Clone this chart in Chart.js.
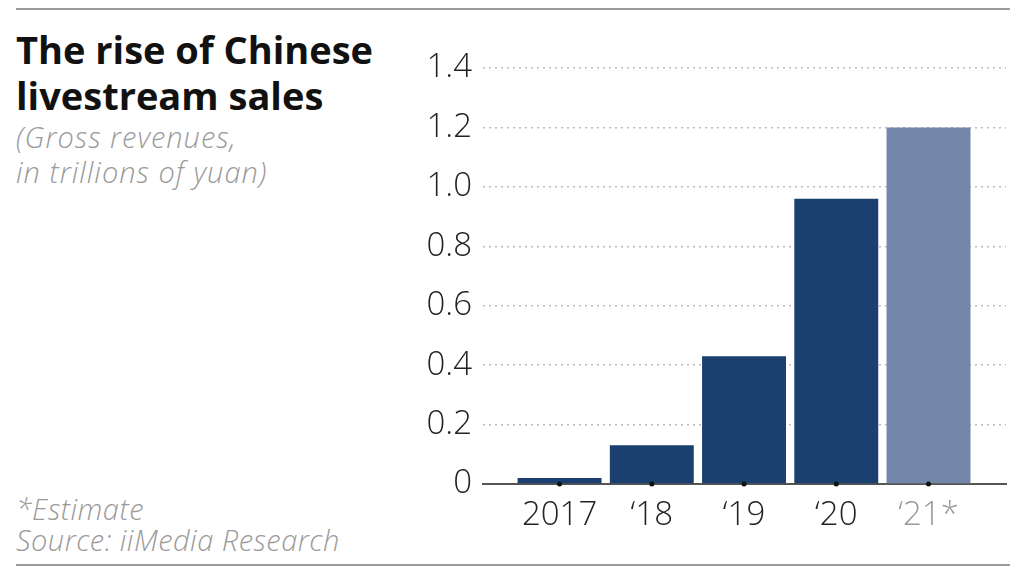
<!DOCTYPE html>
<html>
<head>
<meta charset="utf-8">
<script src="https://cdn.jsdelivr.net/npm/chart.js@4"></script>
<style>
  html, body { margin: 0; padding: 0; background: #fff; }
  body { width: 1024px; height: 572px; position: relative; overflow: hidden; font-family: "Open Sans", sans-serif; }
  .rule { position: absolute; left: 16px; width: 994px; height: 2px; background: #9a9a9a; }
  #title { position: absolute; left: 16px; top: 26px; font-size: 38px; font-weight: 700; line-height: 46px; color: #111; }
  #subtitle { position: absolute; left: 16px; top: 119px; font-size: 29px; font-style: italic; font-weight: 300; line-height: 35px; letter-spacing: 1px; color: #9a9a9a; }
  #notes { position: absolute; left: 16px; top: 493px; font-size: 29px; font-style: italic; font-weight: 300; line-height: 31px; letter-spacing: 0.5px; color: #9a9a9a; }
  #wrap { position: absolute; left: 410px; top: 30px; width: 600px; height: 510px; }
</style>
</head>
<body>
<div class="rule" style="top:8px"></div>
<div id="title">The rise of Chinese<br>livestream sales</div>
<div id="subtitle">(Gross revenues,<br>in trillions of yuan)</div>
<div id="notes">*Estimate<br>Source: iiMedia Research</div>
<div id="wrap"><canvas id="chart"></canvas></div>
<div class="rule" style="top:564px"></div>

<script>
// ------- Data -------
const years = [2017, 2018, 2019, 2020, 2021];
const tickLabels = ['2017', '\u201818', '\u201819', '\u201820', '\u201821*'];
const revenues = [0.02, 0.13, 0.43, 0.96, 1.2];
const yTicks = [0, 0.2, 0.4, 0.6, 0.8, 1.0, 1.2, 1.4];

const DARK = '#1b3f6f';
const LIGHT = '#7486aa';
const barColors = years.map((y, i) => i === years.length - 1 ? LIGHT : DARK);
const FONT = '"Open Sans", sans-serif';

const ctx = document.getElementById('chart').getContext('2d');

new Chart(ctx, {
  type: 'bar',
  data: {
    datasets: [
      {
        // small dots on the baseline under each bar
        type: 'scatter',
        data: years.map(y => ({ x: y, y: 0 })),
        pointRadius: 2.5,
        pointBackgroundColor: '#111',
        pointBorderWidth: 0,
        clip: false,
        order: 0
      },
      {
        data: years.map((y, i) => ({ x: y, y: revenues[i] })),
        backgroundColor: barColors,
        categoryPercentage: 1,
        barPercentage: 0.91,
        order: 1
      }
    ]
  },
  options: {
    responsive: true,
    maintainAspectRatio: false,
    animation: false,
    layout: { padding: { top: 38, left: 0, right: 0, bottom: 0 } },
    plugins: { legend: { display: false }, tooltip: { enabled: false } },
    scales: {
      x: {
        type: 'linear',
        offset: false,
        min: 2016.17,
        max: 2021.84,
        afterBuildTicks: scale => { scale.ticks = years.map(v => ({ value: v })); },
        afterFit: scale => { scale.height = 56; },
        grid: { display: false },
        border: { display: true, color: '#555', width: 2 },
        ticks: {
          padding: 4,
          font: { family: FONT, size: 33, weight: 300 },
          color: c => (c.tick && c.tick.value === years[years.length - 1]) ? '#9a9a9a' : '#222',
          callback: v => tickLabels[years.indexOf(v)]
        }
      },
      y: {
        min: 0,
        max: 1.4,
        afterBuildTicks: scale => { scale.ticks = yTicks.map(v => ({ value: v })); },
        afterFit: scale => { scale.width = 73; },
        border: { display: false, dash: [2, 4] },
        grid: {
          drawTicks: false,
          color: c => c.tick && c.tick.value === 0 ? 'rgba(0,0,0,0)' : '#bdbdbd',
          lineWidth: 1.5
        },
        ticks: {
          padding: 11,
          font: { family: FONT, size: 33, weight: 300 },
          color: '#222',
          callback: v => v === 0 ? '0' : v.toFixed(1)
        }
      }
    }
  }
});
</script>
</body>
</html>
